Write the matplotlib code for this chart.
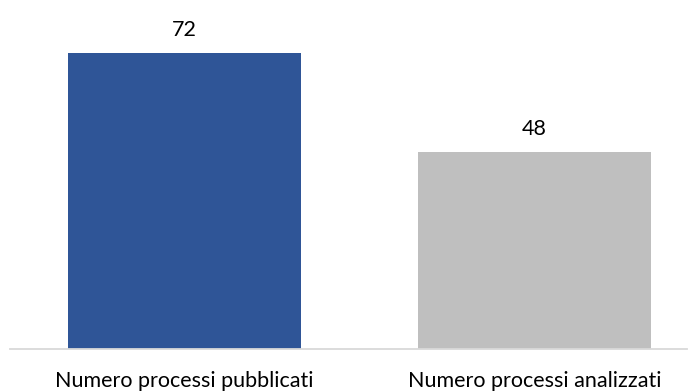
import matplotlib
matplotlib.use("Agg")
import matplotlib.pyplot as plt

categories = ["Numero processi pubblicati", "Numero processi analizzati"]
values = [72, 48]
colors = ["#2F5597", "#BFBFBF"]

plt.rcParams['font.family'] = ['Lato', 'DejaVu Sans']

fig = plt.figure(figsize=(6.97, 3.92), dpi=100)
ax = fig.add_axes([10/697, (392-349)/392, 677/697, 349/392])
x = list(range(len(categories)))
ax.bar(x, values, width=0.666, color=colors, zorder=2)
ax.set_xlim(-0.4986, 1.4357)
ax.set_ylim(0, 84.9)
for xi, v in zip(x, values):
    ax.annotate(str(v), xy=(xi, v), xytext=(0, 17), textcoords="offset pixels",
                ha="center", va="baseline", fontsize=15.5, color="#000000")
for xi, c in zip(x, categories):
    ax.annotate(c, xy=(xi, 0), xycoords=("data", "figure pixels"),
                xytext=(0, 5), textcoords="offset pixels",
                ha="center", va="baseline", fontsize=15.5, color="#000000")
ax.set_xticks([])
ax.set_yticks([])
for s in ["top", "right", "left"]:
    ax.spines[s].set_visible(False)
ax.spines["bottom"].set_color("#D9D9D9")
ax.spines["bottom"].set_linewidth(1.3)
fig.savefig("out.png", dpi=100)
